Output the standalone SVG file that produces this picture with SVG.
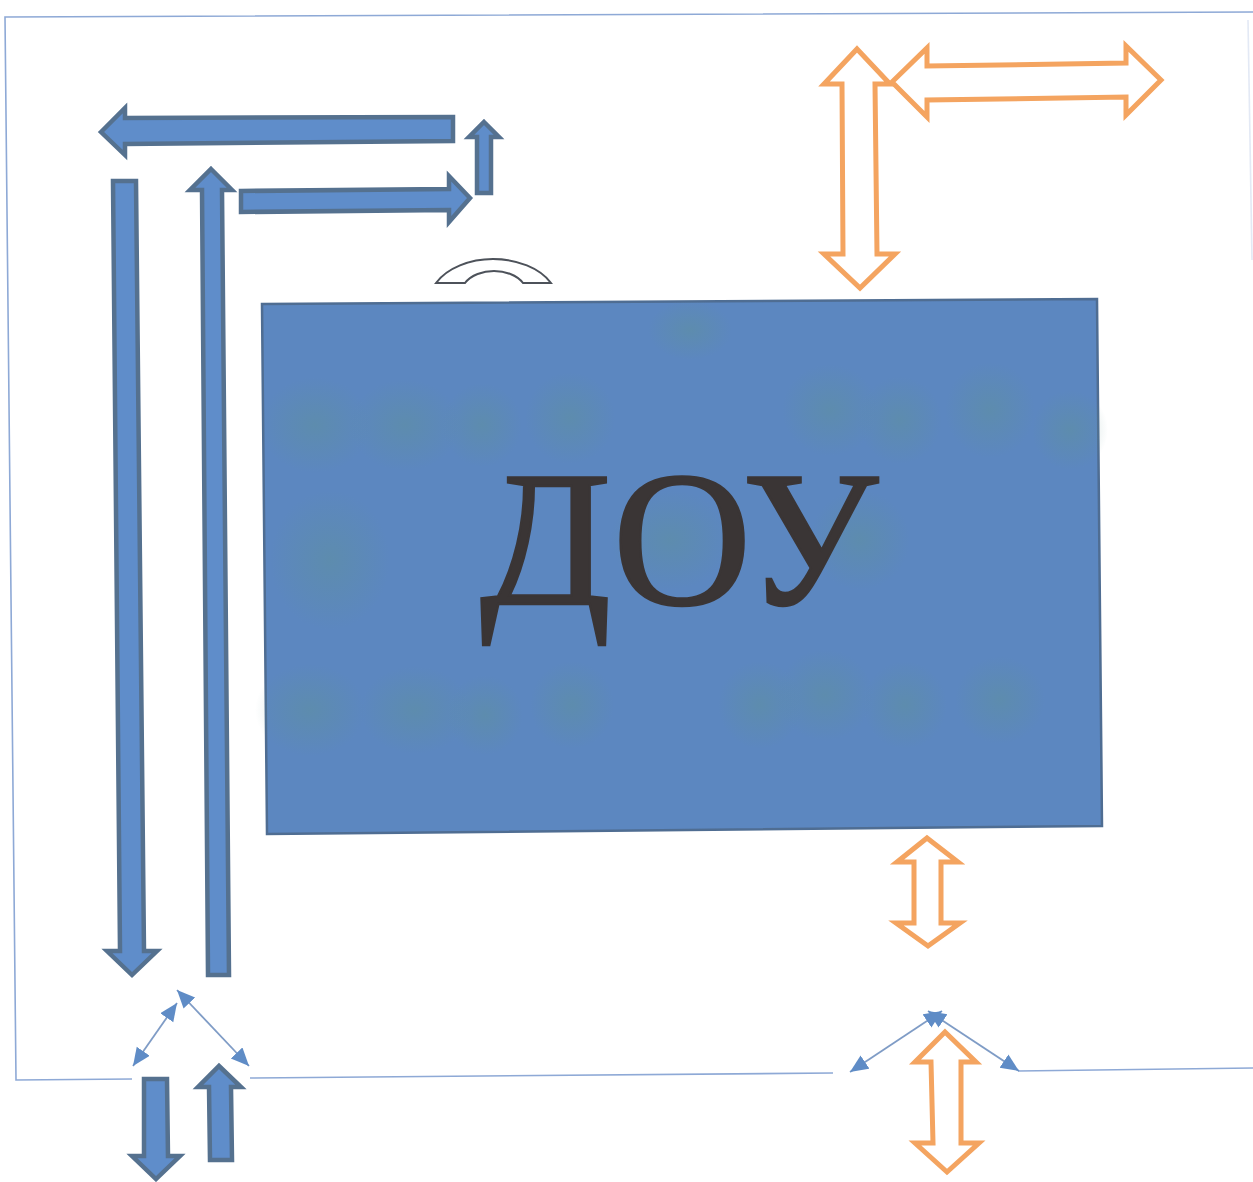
<svg xmlns="http://www.w3.org/2000/svg" width="1253" height="1182" viewBox="0 0 1253 1182">
<style>
.blue{fill:#5f8dca;stroke:#55718f;stroke-width:4.5;stroke-linejoin:miter}
.orange{fill:#fff;stroke:#f4a460;stroke-width:5;stroke-linejoin:miter}
.frame{fill:none;stroke:#8ea9d6;stroke-width:1.6}
.thin{fill:none;stroke:#7f9cc6;stroke-width:1.8;marker-start:url(#tri);marker-end:url(#tri)}
.blot{fill:url(#blotch)}
</style>
<defs>
<marker id="tri" markerUnits="userSpaceOnUse" markerWidth="20" markerHeight="18" refX="18" refY="8" orient="auto-start-reverse"><path d="M0 0L18 8L0 16Z" fill="#5f8cc6"/></marker>
<radialGradient id="blotch"><stop offset="0" stop-color="#5f9490" stop-opacity=".38"/><stop offset="1" stop-color="#5f9490" stop-opacity="0"/></radialGradient>
</defs>
<rect width="1253" height="1182" fill="#fff"/>
<g id="connectors">
<path class="frame" d="M1253 12L5 17L16 1080L132 1079"/>
<path class="frame" d="M250 1078L833 1073"/>
<path class="frame" d="M1018 1071L1253 1068"/>
<path class="frame" d="M1248 20L1252 260" opacity=".25"/>
<path class="thin" d="M133 1066L177 1003"/>
<path class="thin" d="M177 990L249 1066"/>
<path class="thin" d="M850 1072L942 1011"/>
<path class="thin" d="M1019 1071L928 1011"/>
</g>
<g id="node-dou">
<path d="M262 304L1097 299L1102 826L267 834Z" fill="#5c87c0" stroke="#4f6d92" stroke-width="2.5"/>
<g class="blot">
<ellipse cx="315" cy="425" rx="55" ry="48"/><ellipse cx="405" cy="425" rx="55" ry="46"/><ellipse cx="482" cy="425" rx="40" ry="42"/><ellipse cx="570" cy="418" rx="45" ry="46"/>
<ellipse cx="830" cy="410" rx="48" ry="46"/><ellipse cx="900" cy="420" rx="42" ry="44"/><ellipse cx="990" cy="410" rx="45" ry="48"/><ellipse cx="1070" cy="430" rx="38" ry="40"/>
<ellipse cx="310" cy="710" rx="55" ry="46"/><ellipse cx="415" cy="710" rx="55" ry="44"/><ellipse cx="485" cy="715" rx="38" ry="40"/><ellipse cx="572" cy="705" rx="42" ry="44"/>
<ellipse cx="760" cy="705" rx="42" ry="44"/><ellipse cx="825" cy="695" rx="48" ry="46"/><ellipse cx="905" cy="705" rx="42" ry="44"/><ellipse cx="1000" cy="700" rx="45" ry="44"/><ellipse cx="690" cy="330" rx="42" ry="30"/>
<ellipse cx="670" cy="540" rx="60" ry="50"/><ellipse cx="860" cy="540" rx="50" ry="50"/><ellipse cx="330" cy="560" rx="60" ry="70"/>
</g>
<text x="680" y="604" text-anchor="middle" font-family="'Liberation Serif','Times New Roman',serif" font-size="192" letter-spacing="1.5" fill="#3a3535" stroke="#3a3535" stroke-width="2.5">ДОУ</text>
</g>
<g id="node-phone"><path d="M436 283C447 268 470 259 493 259C517 259 540 268 551 283L523 283C517 275 505 271 494 271C483 271 471 275 465 283Z" fill="#fff" stroke="#4d525a" stroke-width="2"/></g>
<g id="arrow-left"><path class="blue" d="M101 132L125 108V118L453 117V141L125 144V155Z"/></g>
<g id="arrow-small-up"><path class="blue" d="M484 122L499 137H491V193H477V137H469Z"/></g>
<g id="arrow-right"><path class="blue" d="M241 191L449 189V176L470 198L449 222V210L241 212Z"/></g>
<g id="arrow-up-long"><path class="blue" d="M211 169L232 190H222L229 975H208L202 190H190Z"/></g>
<g id="arrow-down-long"><path class="blue" d="M113 181H136L144 951H157L132 975L107 951H120Z"/></g>
<g id="arrow-bottom-down"><path class="blue" d="M144 1079H167L168 1156H180L156 1179L132 1156H144Z"/></g>
<g id="arrow-bottom-up"><path class="blue" d="M219 1066L241 1087H231L232 1160H210L209 1087H198Z"/></g>
<g id="arrow-orange-v1"><path class="orange" d="M857 49L890 84H875L877 254H895L860 288L824 254H843L842 84H824Z"/></g>
<g id="arrow-orange-h"><path class="orange" d="M892 82L927 48V66L1126 63V46L1161 80L1126 115V97L927 100V117Z"/></g>
<g id="arrow-orange-v2"><path class="orange" d="M927 838L958 862H941V923H960L928 946L896 923H914V862H897Z"/></g>
<g id="arrow-orange-v3"><path class="orange" d="M945 1032L976 1062H961V1143H979L947 1172L915 1143H933L931 1062H915Z"/></g>
</svg>
